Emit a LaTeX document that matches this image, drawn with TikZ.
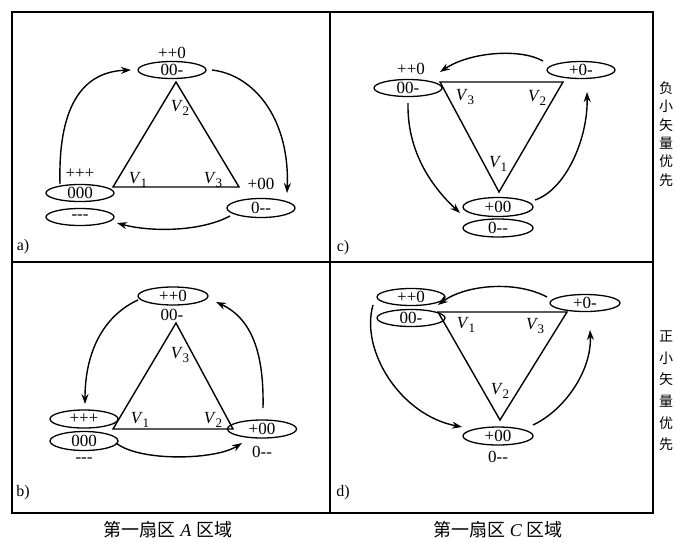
\documentclass[tikz,border=0pt]{standalone}
\usepackage{fontspec}
\setmainfont{Liberation Serif}
\newfontfamily\lbl{Liberation Serif}
\newfontfamily\cjk{Noto Sans CJK SC}
\usetikzlibrary{shapes.geometric,arrows.meta}
\newcommand{\myV}[1]{\textit{V}\kern-0.5pt\raisebox{-4pt}{\fontsize{13}{13}\selectfont #1}}
\begin{document}
\begin{tikzpicture}[x=1pt,y=-1pt,
  ell/.style={ellipse,draw,line width=1.3pt,inner sep=0pt,minimum width=68pt,minimum height=17pt,font=\lbl\fontsize{17}{17}\selectfont},
  txt/.style={inner sep=0pt,font=\lbl\fontsize{17}{17}\selectfont},
  vl/.style={inner sep=0pt,font=\fontsize{17}{17}\selectfont},
  plab/.style={inner sep=0pt,font=\fontsize{16}{16}\selectfont},
  arr/.style={line width=1.4pt,-{Stealth[length=10pt,width=7pt]}},
  tri/.style={line width=1.4pt,line join=miter},
  framestyle/.style={line width=1.3pt},
  vtxt/.style={inner sep=0pt,align=center},
  captxt/.style={inner sep=0pt,font=\fontsize{18}{18}\selectfont}]
\useasboundingbox (0,0) rectangle (676,541);
% frame
\draw[framestyle] (12,12) rectangle (653,513);
\draw[framestyle] (330,12) -- (330,513);
\draw[framestyle] (12,262) -- (653,262);

% ---------- panel a ----------
\node[ell] (aT) at (172,70) {00-};
\node[txt] (aTl) at (172,53) {++0};
\node[ell] (aL) at (80,193) {000};
\node[txt] (aLl) at (80,174) {+++};
\node[ell] (aL2) at (80,217) {-{}-{}-};
\node[ell,minimum height=19pt] (aR) at (261,208) {0-{}-};
\node[txt] (aRl) at (261,184) {+00};
\coordinate (a1) at (176,82);
\coordinate (a2) at (113,187);
\coordinate (a3) at (239,187);
\draw[tri] (a1) -- (a2) -- (a3) -- cycle;
\node[vl] (aV2) at (180,108) {\myV{2}};
\node[vl] (aV1) at (138,180) {\myV{1}};
\node[vl] (aV3) at (213,180) {\myV{3}};
\draw[arr] ([shift={(-20,-9)}]aL.center) .. controls (58,110) and (80,72) .. ([shift={(-41,0)}]aT.center);
\draw[arr] ([shift={(40,0)}]aT.center) .. controls (255,75) and (290,120) .. ([shift={(26,-15)}]aR.center);
\draw[arr] ([shift={(-31,8)}]aR.center) .. controls (200,232) and (150,232) .. ([shift={(37,6)}]aL2.center);
\node[plab] (la) at (23,247) {a)};

% ---------- panel c ----------
\node[ell] (cL) at (408,88) {00-};
\node[txt] (cLl) at (411,69) {++0};
\node[ell] (cR) at (581,70) {+0-};
\node[ell,minimum width=70pt,minimum height=19pt] (cB) at (498,207) {+00};
\node[ell,minimum width=70pt,minimum height=18pt] (cB2) at (498,228) {0-{}-};
\coordinate (c1) at (440,82);
\coordinate (c2) at (563,82);
\coordinate (c3) at (499,192);
\draw[tri] (c1) -- (c2) -- (c3) -- cycle;
\node[vl] (cV3) at (465,97) {\myV{3}};
\node[vl] (cV2) at (537,98) {\myV{2}};
\node[vl] (cV1) at (498,164) {\myV{1}};
\draw[arr] ([shift={(-38,-9)}]cR.center) .. controls (520,48) and (470,52) .. ([shift={(32,-16)}]cL.center);
\draw[arr] ([shift={(0,15)}]cL.center) .. controls (407,150) and (430,185) .. ([shift={(-38,-15)}]cB2.center);
\draw[arr] ([shift={(37,-7)}]cB.center) .. controls (565,190) and (588,140) .. ([shift={(6,22)}]cR.center);
\node[plab] (lc) at (343,248) {c)};

% ---------- panel b ----------
\node[ell,minimum width=70pt,minimum height=18pt] (bT) at (173,296) {++0};
\node[txt] (bTl) at (172,315) {00-};
\node[ell,minimum height=18pt] (bL) at (84,419) {+++};
\node[ell,minimum height=19pt] (bL2) at (84,441) {000};
\node[txt] (bL2l) at (84,460) {-{}-{}-};
\node[ell,minimum width=69pt,minimum height=18pt] (bR) at (262,429) {+00};
\node[txt] (bRl) at (262,452) {0-{}-};
\coordinate (b1) at (176,323);
\coordinate (b2) at (113,429);
\coordinate (b3) at (233,429);
\draw[tri] (b1) -- (b2) -- (b3) -- cycle;
\node[vl] (bV3) at (180,355) {\myV{3}};
\node[vl] (bV1) at (140,420) {\myV{1}};
\node[vl] (bV2) at (213,420) {\myV{2}};
\draw[arr] ([shift={(-35,4)}]bT.center) .. controls (105,315) and (85,350) .. ([shift={(1,-15)}]bL.center);
\draw[arr] ([shift={(1,-21)}]bR.center) .. controls (264,360) and (255,320) .. ([shift={(43,6)}]bT.center);
\draw[arr] ([shift={(32,2)}]bL2.center) .. controls (140,462) and (215,460) .. ([shift={(-20,14)}]bR.center);
\node[plab] (lb) at (23,493) {b)};

% ---------- panel d ----------
\node[ell] (dT) at (411,297) {++0};
\node[ell] (dL) at (411,318) {00-};
\node[ell,minimum width=70pt] (dR) at (585,303) {+0-};
\node[ell,minimum width=70pt,minimum height=18pt] (dB) at (498,436) {+00};
\node[txt] (dBl) at (498,457) {0-{}-};
\coordinate (d1) at (438,312);
\coordinate (d2) at (567,312);
\coordinate (d3) at (500,420);
\draw[tri] (d1) -- (d2) -- (d3) -- cycle;
\node[vl] (dV1) at (466,325) {\myV{1}};
\node[vl] (dV3) at (535,326) {\myV{3}};
\node[vl] (dV2) at (500,391) {\myV{2}};
\draw[arr] ([shift={(-38,-6)}]dR.center) .. controls (515,280) and (465,285) .. ([shift={(27,8)}]dT.center);
\draw[arr] ([shift={(-38,8)}]dT.center) .. controls (360,350) and (400,415) .. ([shift={(-36,-9)}]dB.center);
\draw[arr] ([shift={(35,-11)}]dB.center) .. controls (565,410) and (592,370) .. ([shift={(5,27)}]dR.center);
\node[plab] (ld) at (343,493) {d)};

% ---------- side and bottom texts ----------
\node[vtxt,font=\cjk\fontsize{14}{18.4}\selectfont] (neg) at (666,134) {负\\小\\矢\\量\\优\\先};
\node[vtxt,font=\cjk\fontsize{14}{21.6}\selectfont] (pos) at (666,391) {正\\小\\矢\\量\\优\\先};
\node[captxt] (capA) at (168,530) {{\cjk 第一扇区} \textit{A} {\cjk 区域}};
\node[captxt] (capC) at (498,530) {{\cjk 第一扇区} \textit{C} {\cjk 区域}};
\end{tikzpicture}
\end{document}
